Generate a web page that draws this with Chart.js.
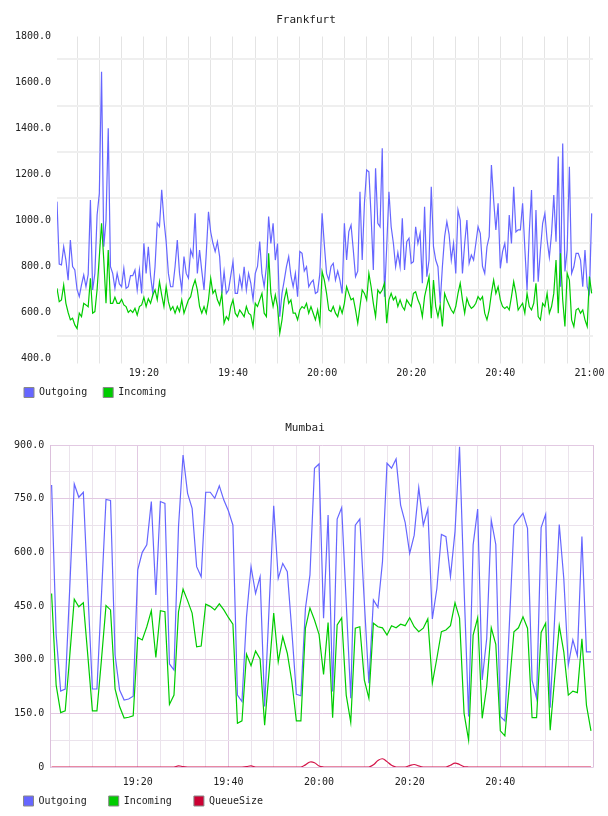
<!DOCTYPE html>
<html>
<head>
<meta charset="utf-8">
<title>Frankfurt / Mumbai</title>
<script src="https://cdn.jsdelivr.net/npm/chart.js@4.4.1/dist/chart.umd.min.js"></script>
<style>
  html, body { margin: 0; padding: 0; background: #fff; }
  .box { position: absolute; left: 0; width: 608px; }
  #frankBox { top: 0; height: 410px; }
  #mumbaiBox { top: 410px; height: 406px; }
</style>
</head>
<body>
<div class="box" id="frankBox"><canvas id="frankfurt"></canvas></div>
<div class="box" id="mumbaiBox"><canvas id="mumbai"></canvas></div>
<script>
// minutes after 19:00, Frankfurt is sampled every 30s, Mumbai every minute
const frankStart = 0.5;
const frankStep = 0.5;
const mumbaiStart = 1;
const mumbaiStep = 1;

const frankOutgoing = [
  1082, 811, 807, 886, 828, 740, 915, 800, 785, 700,
  669, 720, 763, 712, 766, 1089, 698, 770, 1024, 1118,
  1647, 886, 1000, 1401, 799, 770, 705, 770, 724, 712,
  792, 705, 712, 760, 760, 785, 698, 785, 683, 901,
  770, 886, 760, 683, 799, 988, 973, 1133, 1002, 908,
  770, 712, 712, 800, 915, 770, 698, 843, 770, 749,
  872, 843, 1031, 770, 872, 780, 698, 857, 1038, 950,
  901, 865, 908, 843, 683, 778, 683, 698, 760, 821,
  683, 683, 756, 705, 799, 698, 770, 727, 655, 770,
  800, 908, 770, 712, 800, 1017, 900, 988, 828, 900,
  582, 683, 740, 799, 843, 760, 712, 770, 669, 865,
  857, 780, 799, 712, 730, 741, 683, 690, 770, 1031,
  894, 770, 741, 800, 814, 741, 780, 741, 683, 988,
  828, 952, 980, 872, 756, 780, 1125, 828, 1075, 1220,
  1212, 1017, 785, 1227, 988, 973, 1314, 669, 886, 1125,
  973, 901, 799, 860, 799, 1010, 785, 908, 923, 814,
  821, 973, 900, 944, 727, 1060, 756, 828, 1147, 886,
  828, 799, 640, 800, 930, 995, 940, 828, 901, 770,
  1046, 1002, 770, 900, 1002, 814, 850, 828, 900, 973,
  944, 800, 770, 886, 930, 1241, 1089, 959, 1075, 792,
  865, 900, 814, 1024, 900, 1147, 950, 959, 959, 1075,
  879, 698, 950, 1133, 734, 1046, 734, 872, 988, 1031,
  915, 840, 944, 1111, 908, 1278, 712, 1335, 778, 872,
  1234, 770, 799, 857, 857, 828, 712, 872, 712, 683, 1031
];

const frankIncoming = [
  705, 647, 655, 720, 640, 600, 568, 575, 546, 530,
  597, 582, 640, 633, 625, 749, 597, 604, 700, 843,
  988, 828, 640, 872, 640, 640, 666, 640, 640, 657,
  633, 626, 600, 610, 600, 618, 589, 626, 633, 666,
  626, 660, 640, 676, 698, 655, 734, 676, 626, 712,
  647, 611, 626, 597, 626, 604, 655, 597, 626, 655,
  669, 712, 741, 698, 626, 597, 626, 597, 655, 749,
  683, 698, 655, 633, 683, 553, 582, 568, 626, 655,
  597, 582, 611, 597, 582, 626, 597, 589, 539, 640,
  626, 655, 683, 597, 582, 857, 683, 626, 676, 626,
  510, 568, 655, 698, 640, 655, 597, 597, 568, 611,
  626, 618, 640, 597, 626, 597, 568, 611, 553, 778,
  741, 683, 611, 604, 626, 597, 582, 626, 597, 640,
  712, 683, 655, 662, 611, 553, 626, 698, 683, 655,
  770, 712, 640, 582, 698, 683, 698, 727, 553, 655,
  683, 655, 669, 626, 655, 626, 611, 655, 640, 626,
  683, 690, 655, 633, 582, 669, 712, 756, 575, 741,
  626, 582, 633, 539, 683, 655, 633, 611, 597, 626,
  683, 727, 655, 597, 662, 633, 618, 626, 640, 669,
  655, 669, 597, 568, 611, 683, 741, 683, 712, 655,
  626, 618, 626, 611, 669, 734, 683, 611, 626, 640,
  597, 683, 626, 611, 640, 727, 582, 568, 640, 626,
  683, 597, 626, 683, 828, 597, 857, 655, 539, 770,
  741, 568, 539, 611, 618, 597, 611, 568, 539, 756, 683
];

const mumbaiOutgoing = [
  788, 370, 212, 218, 500, 791, 754, 768, 490, 218,
  218, 480, 748, 745, 313, 215, 187, 190, 198, 551,
  600, 621, 742, 481, 742, 737, 288, 271, 672, 872,
  765, 723, 560, 532, 768, 768, 751, 786, 746, 716,
  676, 201, 183, 420, 560, 485, 532, 169, 450, 730,
  527, 569, 546, 380, 203, 199, 443, 537, 835, 847,
  416, 704, 211, 693, 725, 460, 192, 676, 693, 460,
  234, 467, 446, 574, 849, 835, 861, 732, 684, 597,
  648, 781, 676, 721, 414, 499, 650, 644, 532, 658,
  895, 500, 141, 621, 721, 243, 360, 690, 622, 141,
  129, 400, 676, 693, 709, 667, 243, 192, 669, 706,
  166, 420, 678, 527, 285, 355, 311, 644, 322, 322
];

const mumbaiIncoming = [
  485, 229, 152, 157, 310, 469, 448, 459, 310, 157,
  157, 300, 451, 439, 218, 169, 137, 139, 143, 362,
  355, 392, 437, 306, 437, 434, 175, 201, 434, 497,
  465, 430, 336, 338, 455, 449, 439, 456, 439, 418,
  399, 122, 129, 315, 283, 324, 302, 117, 270, 430,
  294, 364, 318, 239, 129, 129, 388, 444, 411, 371,
  259, 404, 138, 397, 417, 201, 125, 388, 392, 243,
  192, 402, 392, 389, 369, 395, 389, 399, 395, 417,
  392, 378, 388, 414, 234, 304, 378, 383, 395, 459,
  416, 150, 75, 369, 417, 136, 225, 389, 343, 101,
  87, 230, 378, 389, 420, 388, 138, 138, 376, 402,
  103, 250, 395, 322, 201, 212, 208, 358, 173, 101
];

const mumbaiQueue = [
  0, 0, 0, 0, 0, 0, 0, 0, 0, 0,
  0, 0, 0, 0, 0, 0, 0, 0, 0, 0,
  0, 0, 0, 0, 0, 0, 0, 0, 3, 1,
  0, 0, 0, 0, 0, 0, 0, 0, 0, 0,
  0, 0, 0, 1, 3, 0, 0, 0, 0, 0,
  0, 0, 0, 0, 0, 0, 6, 14, 12, 3,
  0, 0, 0, 0, 0, 0, 0, 0, 0, 0,
  0, 6, 18, 23, 15, 5, 0, 0, 0, 4,
  7, 3, 0, 0, 0, 0, 0, 0, 5, 11,
  7, 1, 0, 0, 0, 0, 0, 0, 0, 0,
  0, 0, 0, 0, 0, 0, 0, 0, 0, 0,
  0, 0, 0, 0, 0, 0, 0, 0, 0, 0
];

const frankTicks = { min: 400, max: 1800, step: 100, labelEvery: 200 };
const mumbaiTicks = { min: 0, max: 900, step: 75, labelEvery: 150 };

const BLUE = '#6666ff';
const GREEN = '#00cc00';
const RED = '#cc0033';

Chart.defaults.font.family = "'DejaVu Sans Mono', monospace";
Chart.defaults.font.size = 10;
Chart.defaults.color = '#222';

const toPoints = (values, start, step) => values.map((v, i) => ({ x: start + i * step, y: v }));

const clock = (m) => {
  const h = 19 + Math.floor(m / 60);
  return h + ':' + String(m % 60).padStart(2, '0');
};

// trailing blanks widen each legend entry so the boxes line up with the original
const legendLabels = (gap) => (chart) =>
  chart.data.datasets.map((ds, i) => ({
    text: ds.label + gap,
    fillStyle: ds.legendColor || ds.borderColor,
    strokeStyle: '#888',
    lineWidth: 1,
    fontColor: '#222',
    hidden: false,
    datasetIndex: i,
  }));

const lineSet = (label, data, color, order) => ({
  label: label,
  data: data,
  borderColor: color,
  backgroundColor: color,
  borderWidth: 1.2,
  pointRadius: 0,
  tension: 0,
  fill: false,
  order: order,
});

new Chart(document.getElementById('frankfurt'), {
  type: 'line',
  data: {
    datasets: [
      lineSet('Outgoing', toPoints(frankOutgoing, frankStart, frankStep), BLUE, 2),
      lineSet('Incoming', toPoints(frankIncoming, frankStart, frankStep), GREEN, 1),
    ],
  },
  options: {
    responsive: true,
    maintainAspectRatio: false,
    animation: false,
    events: [],
    layout: { padding: { left: 14, right: 10, top: 0, bottom: 2.5 } },
    plugins: {
      title: {
        display: true,
        text: 'Frankfurt',
        color: '#222',
        font: { size: 11, weight: 'normal' },
        padding: { top: 13.4, bottom: 9.9 },
      },
      legend: {
        position: 'bottom',
        align: 'start',
        labels: { boxWidth: 10, boxHeight: 10, padding: 10, generateLabels: legendLabels(' ') },
      },
      tooltip: { enabled: false },
    },
    scales: {
      x: {
        type: 'linear',
        min: 0.5,
        max: 120.8,
        border: { display: false },
        grid: { color: '#e4e4e4', lineWidth: 1, drawTicks: true, tickLength: 5 },
        ticks: {
          stepSize: 5,
          includeBounds: false,
          autoSkip: false,
          maxRotation: 0,
          padding: 4,
          callback: (v) => (v % 20 === 0 ? clock(v) : ''),
        },
        afterFit: (s) => { s.height = 19; s.paddingLeft = 0; s.paddingRight = 15; },
      },
      y: {
        min: frankTicks.min,
        max: frankTicks.max,
        border: { display: false },
        grid: {
          drawTicks: false,
          lineWidth: 2,
          color: (c) => (c.tick && c.tick.value % frankTicks.labelEvery !== 0 ? '#efefef' : 'rgba(0,0,0,0)'),
        },
        ticks: {
          stepSize: frankTicks.step,
          autoSkip: false,
          padding: 6,
          callback: (v) => (v % frankTicks.labelEvery === 0 ? v.toFixed(1) : ''),
        },
        afterFit: (s) => { s.width = 43; },
      },
    },
  },
});

const mumbaiMajor = '#e2c9e2';
const mumbaiMinor = '#ebe3ec';
const mumbaiEdge = '#dcc0dc';

const queueSet = lineSet('QueueSize', toPoints(mumbaiQueue, mumbaiStart, mumbaiStep), '#d41449', 0);
queueSet.tension = 0.4;
queueSet.legendColor = RED;

new Chart(document.getElementById('mumbai'), {
  type: 'line',
  data: {
    datasets: [
      lineSet('Outgoing', toPoints(mumbaiOutgoing, mumbaiStart, mumbaiStep), BLUE, 2),
      lineSet('Incoming', toPoints(mumbaiIncoming, mumbaiStart, mumbaiStep), GREEN, 1),
      queueSet,
    ],
  },
  options: {
    responsive: true,
    maintainAspectRatio: false,
    animation: false,
    events: [],
    layout: { padding: { left: 13.5, right: 11.5, top: 0, bottom: 0 } },
    plugins: {
      title: {
        display: true,
        text: 'Mumbai',
        color: '#222',
        font: { size: 11, weight: 'normal' },
        padding: { top: 11.7, bottom: 10.1 },
      },
      legend: {
        position: 'bottom',
        align: 'start',
        labels: { boxWidth: 10, boxHeight: 10, padding: 10, generateLabels: legendLabels('  ') },
      },
      tooltip: { enabled: false },
    },
    scales: {
      x: {
        type: 'linear',
        min: 0.8,
        max: 120.6,
        border: { display: false },
        grid: {
          drawTicks: false,
          lineWidth: 1,
          color: (c) => {
            const v = c.tick.value;
            if (v === 0.8 || v === 120.6) return mumbaiEdge;
            return v % 20 === 0 ? mumbaiMajor : mumbaiMinor;
          },
        },
        ticks: {
          stepSize: 5,
          includeBounds: false,
          autoSkip: false,
          maxRotation: 0,
          padding: 9,
          callback: (v) => (v % 20 === 0 && v < 120 ? clock(v) : ''),
        },
        afterBuildTicks: (s) => {
          s.ticks = [{ value: s.min }]
            .concat(s.ticks.filter((t) => t.value < 118))
            .concat([{ value: s.max }]);
        },
        afterFit: (s) => { s.height = 19; s.paddingLeft = 0; s.paddingRight = 14.3; },
      },
      y: {
        min: mumbaiTicks.min,
        max: mumbaiTicks.max,
        border: { display: true, color: mumbaiEdge, width: 1 },
        grid: {
          drawTicks: false,
          lineWidth: 1,
          color: (c) => (c.tick && c.tick.value % mumbaiTicks.labelEvery === 0 ? mumbaiMajor : mumbaiMinor),
        },
        ticks: {
          stepSize: mumbaiTicks.step,
          autoSkip: false,
          padding: 6.5,
          callback: (v) => (v % mumbaiTicks.labelEvery === 0 ? (v === 0 ? '0' : v.toFixed(1)) : ''),
        },
        afterFit: (s) => { s.width = 37.2; },
      },
    },
  },
});
</script>
</body>
</html>
